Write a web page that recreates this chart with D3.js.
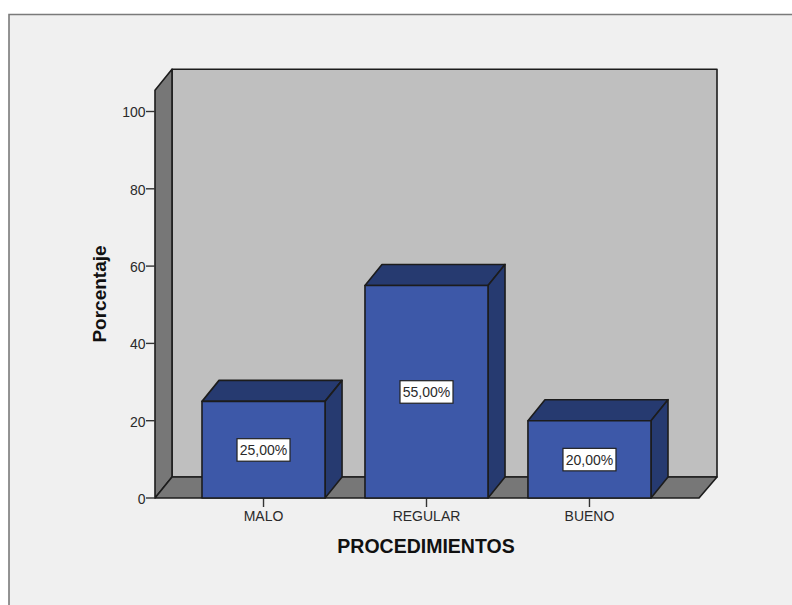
<!DOCTYPE html>
<html>
<head>
<meta charset="utf-8">
<script src="https://cdn.jsdelivr.net/npm/d3@7/dist/d3.min.js"></script>
<style>
html,body{margin:0;padding:0;background:#fff}
svg{display:block}
text{font-family:"Liberation Sans",Arial,sans-serif;fill:#2a2a2a}
</style>
</head>
<body>
<svg id="chart" width="792" height="605"></svg>
<script>
const categories = ["MALO", "REGULAR", "BUENO"];
const percentages = [25, 55, 20];
const valueLabels = ["25,00%", "55,00%", "20,00%"];
const yTicks = [0, 20, 40, 60, 80, 100];
const xTitle = "PROCEDIMIENTOS";
const yTitle = "Porcentaje";

const svg = d3.select("#chart");
const depthX = 17, depthY = 21;
const left = 155, right = 699, baseY = 498;

const y = d3.scaleLinear().domain([0, 100]).range([baseY, 111.5]);
const yTop = y(105.5);
const x = d3.scaleBand().domain(categories).range([182, 671]).paddingInner(0.245).paddingOuter(0.1227);

const line = "#1c1c1c";
const poly = (pts, fill, sw = 1.6) => svg.append("path")
  .attr("d", d3.line()(pts) + "Z")
  .attr("fill", fill).attr("stroke", line).attr("stroke-width", sw)
  .attr("stroke-linejoin", "round");

// Panel background with its frame on the top and left edges
svg.append("rect").attr("x", 9).attr("y", 14).attr("width", 783).attr("height", 591).attr("fill", "#f0f0f0");
svg.append("path").attr("d", "M9,605V14.5H792").attr("fill", "none").attr("stroke", "#7a7a7a").attr("stroke-width", 1.6);

// Back wall, side wall and floor of the 3D box
poly([[left + depthX, yTop - depthY], [right + depthX + 1, yTop - depthY], [right + depthX + 1, baseY - depthY], [left + depthX, baseY - depthY]], "#bfbfbf");
poly([[left, yTop], [left + depthX, yTop - depthY], [left + depthX, baseY - depthY], [left, baseY]], "#777777");
poly([[left, baseY], [left + depthX, baseY - depthY], [right + depthX + 1, baseY - depthY], [right, baseY]], "#777777");

// Value axis
const yAxis = svg.append("g");
yAxis.selectAll("line").data(yTicks).join("line")
  .attr("x1", left - 9).attr("x2", left)
  .attr("y1", d => y(d)).attr("y2", d => y(d))
  .attr("stroke", "#333").attr("stroke-width", 1.4);
yAxis.selectAll("text").data(yTicks).join("text")
  .attr("x", left - 9.5).attr("y", d => y(d) + 1)
  .attr("dy", "0.35em").attr("text-anchor", "end")
  .attr("font-size", 14).text(d => d);

// Category axis
const xAxis = svg.append("g");
xAxis.selectAll("line").data(categories).join("line")
  .attr("x1", d => x(d) + x.bandwidth() / 2).attr("x2", d => x(d) + x.bandwidth() / 2)
  .attr("y1", baseY).attr("y2", baseY + 9)
  .attr("stroke", "#333").attr("stroke-width", 1.4);
xAxis.selectAll("text").data(categories).join("text")
  .attr("x", d => x(d) + x.bandwidth() / 2).attr("y", 521)
  .attr("text-anchor", "middle").attr("font-size", 14).text(d => d);

// Bars: front, top and right faces, then the value label box
categories.forEach((c, i) => {
  const x0 = x(c), x1 = x0 + x.bandwidth(), yv = y(percentages[i]);
  poly([[x0, yv], [x0 + depthX, yv - depthY], [x1 + depthX, yv - depthY], [x1, yv]], "#263a70");
  poly([[x1, yv], [x1 + depthX, yv - depthY], [x1 + depthX, baseY - depthY], [x1, baseY]], "#263a70");
  poly([[x0, baseY], [x0, yv], [x1, yv], [x1, baseY]], "#3d58a8");
  const cx = (x0 + x1) / 2, cy = (yv + baseY) / 2;
  svg.append("rect").attr("x", cx - 26.5).attr("y", cy - 11).attr("width", 53).attr("height", 22.5)
    .attr("fill", "#fff").attr("stroke", "#222").attr("stroke-width", 1.2);
  svg.append("text").attr("x", cx).attr("y", cy + 0.5).attr("dy", "0.35em")
    .attr("text-anchor", "middle").attr("font-size", 14).text(valueLabels[i]);
});

// Axis titles
svg.append("text").attr("x", 426).attr("y", 553).attr("text-anchor", "middle")
  .attr("font-size", 19.5).attr("font-weight", "bold").style("fill", "#111").text(xTitle);
svg.append("text").attr("transform", "translate(106,294) rotate(-90)").attr("text-anchor", "middle")
  .attr("font-size", 19).attr("font-weight", "bold").style("fill", "#111").text(yTitle);
</script>
</body>
</html>
